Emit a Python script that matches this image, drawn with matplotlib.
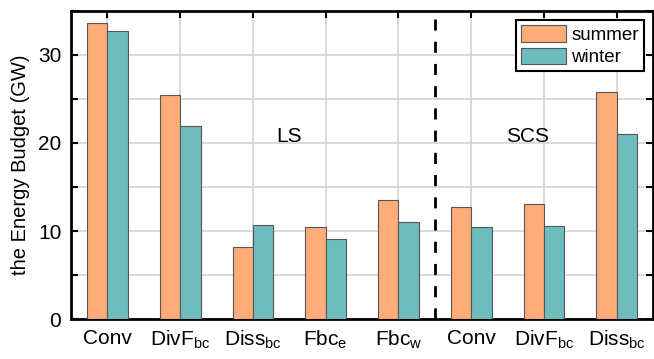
import numpy as np
import matplotlib
matplotlib.use('Agg')
import matplotlib.pyplot as plt
from matplotlib.ticker import MultipleLocator

plt.rcParams['font.family'] = ['Liberation Sans', 'DejaVu Sans']
plt.rcParams['mathtext.fontset'] = 'custom'
plt.rcParams['mathtext.rm'] = 'Liberation Sans'

SUMMER_COLOR = '#FFAD78'
WINTER_COLOR = '#6DBDBF'

categories = ['Conv', r'DivF$\mathregular{_{bc}}$', r'Diss$\mathregular{_{bc}}$',
              r'Fbc$\mathregular{_e}$', r'Fbc$\mathregular{_w}$',
              'Conv', r'DivF$\mathregular{_{bc}}$', r'Diss$\mathregular{_{bc}}$']
summer = [33.6, 25.4, 8.2, 10.45, 13.5, 12.7, 13.1, 25.8]
winter = [32.7, 21.9, 10.7, 9.1, 11.0, 10.4, 10.55, 21.0]

fig = plt.figure(figsize=(6.54, 3.59), dpi=100)
ax = fig.add_axes([0.1086, 0.1114, 0.8899, 0.858])

x = np.arange(1, len(categories) + 1)
w = 0.28
ax.bar(x - w / 2, summer, width=w, color=SUMMER_COLOR, edgecolor='#555555', lw=0.8,
       label='summer', zorder=3)
ax.bar(x + w / 2, winter, width=w, color=WINTER_COLOR, edgecolor='#555555', lw=0.8,
       label='winter', zorder=3)

# separator between LS and SCS groups
ax.axvline(5.5, color='black', lw=2, ls=(0, (4, 4)), zorder=4)
ax.text(3.5, 20.7, 'LS', fontsize=15, ha='center', va='center')
ax.text(6.78, 20.7, 'SCS', fontsize=15, ha='center', va='center')

ax.set_xlim(0.5, 8.5)
ax.set_ylim(0, 35)
ax.set_xticks(x)
ax.set_xticklabels(categories, fontsize=15)
ax.set_yticks([0, 10, 20, 30])
ax.yaxis.set_minor_locator(MultipleLocator(5))
ax.tick_params(axis='both', which='both', direction='in', top=True, right=True,
               width=1.5, length=5, labelsize=15, pad=7)
ax.tick_params(axis='x', which='minor', top=False, bottom=False)
ax.grid(True, which='both', color='#D4D4D4', lw=1.2, zorder=0)
ax.set_axisbelow(True)
ax.set_ylabel('the Energy Budget (GW)', fontsize=14.5, labelpad=6)
for s in ax.spines.values():
    s.set_linewidth(2)

leg = ax.legend(loc='upper right', fontsize=13.5, fancybox=False, edgecolor='black',
                framealpha=1, handlelength=2.4, handleheight=1.0,
                handletextpad=0.3, borderpad=0.25, labelspacing=0.2,
                borderaxespad=0.5)
leg.get_frame().set_linewidth(1.5)

fig.savefig('out.png', dpi=100)
